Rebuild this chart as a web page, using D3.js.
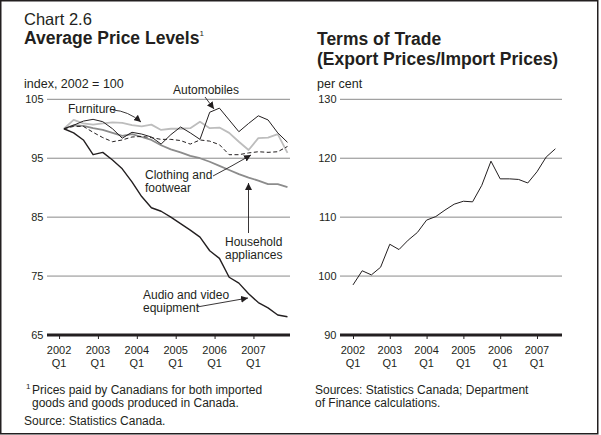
<!DOCTYPE html>
<html><head><meta charset="utf-8">
<script src="https://cdn.jsdelivr.net/npm/d3@7"></script>
<style>
body{margin:0;background:#fff}
svg{display:block}
text{font-family:"Liberation Sans",Arial,Helvetica,sans-serif;fill:#231f20}
</style>
</head><body>
<svg id="c" width="601" height="435"></svg>
<script>
// ---- data ----
const yearTicks = [2002, 2003, 2004, 2005, 2006, 2007];
const yearLabels = ["2002", "2003", "2004", "2005", "2006", "2007"];
const quarterLabel = "Q1";
const leftYTicks = [65, 75, 85, 95, 105];
const rightYTicks = [90, 100, 110, 120, 130];

// quarterly, 2002 Q1 .. 2007 Q4 (index, 2002 = 100)
const automobiles = [100, 100.6, 101.3, 101.6, 101.2, 100.0, 98.4, 99.4, 99.1, 98.6, 97.4, 99.0, 100.3, 99.3, 98.2, 102.8, 103.5, 101.5, 99.5, 100.9, 102.2, 101.5, 99.3, 97.7];
const furniture = [100, 101.5, 100.9, 100.7, 100.9, 101.1, 101.0, 100.6, 100.4, 100.7, 99.8, 100.0, 100.0, 100.1, 101.2, 100.1, 100.2, 99.3, 97.8, 96.4, 98.4, 98.5, 99.1, 95.9];
const clothing = [100, 100.4, 100.4, 99.4, 98.5, 97.8, 98.1, 98.6, 98.7, 98.5, 98.2, 98.2, 98.0, 97.4, 98.1, 97.9, 97.3, 95.6, 95.6, 95.9, 96.1, 96.0, 96.1, 97.0];
const household = [100, 100.6, 100.5, 100.1, 99.8, 99.3, 98.8, 99.1, 98.6, 98.1, 97.2, 96.5, 96.0, 95.4, 95.0, 94.4, 93.7, 93.0, 92.3, 91.7, 91.2, 90.6, 90.6, 90.1];
const audioVideo = [100, 99.3, 98.1, 95.6, 96.0, 94.7, 93.2, 91.0, 88.5, 86.6, 86.0, 85.0, 83.9, 82.8, 81.6, 79.3, 78.0, 74.8, 73.8, 72.0, 70.5, 69.6, 68.4, 68.1];

// quarterly, 2002 Q1 .. 2007 Q3 (per cent)
const termsOfTrade = [98.5, 100.9, 100.2, 101.5, 105.4, 104.5, 106.1, 107.4, 109.5, 110.1, 111.2, 112.2, 112.7, 112.6, 115.4, 119.5, 116.5, 116.5, 116.4, 115.8, 117.7, 120.2, 121.6];

// ---- drawing ----
const svg = d3.select("#c");
const defs = svg.append("defs");
defs.append("marker").attr("id", "ah").attr("viewBox", "0 0 10 10")
  .attr("refX", 10).attr("refY", 5).attr("markerWidth", 7).attr("markerHeight", 7)
  .attr("markerUnits", "userSpaceOnUse").attr("orient", "auto")
  .append("path").attr("d", "M0,0L10,5L0,10z").attr("fill", "#231f20");

svg.append("rect").attr("x", 0.75).attr("y", 0.75).attr("width", 597).attr("height", 433)
  .attr("fill", "none").attr("stroke", "#231f20").attr("stroke-width", 1.5);

// titles
svg.append("text").attr("x", 24).attr("y", 25).attr("font-size", 16.5).text("Chart 2.6");
const t1 = svg.append("text").attr("x", 24).attr("y", 44).attr("font-size", 17.5).attr("font-weight", "bold");
t1.append("tspan").text("Average Price Levels");
t1.append("tspan").attr("font-size", 8).attr("font-weight", "normal").attr("dy", -8).text("1");
svg.append("text").attr("x", 317).attr("y", 45).attr("font-size", 17.5).attr("font-weight", "bold").text("Terms of Trade");
svg.append("text").attr("x", 317).attr("y", 65).attr("font-size", 17.5).attr("font-weight", "bold").text("(Export Prices/Import Prices)");
svg.append("text").attr("x", 24).attr("y", 87.5).attr("font-size", 12.5).text("index, 2002 = 100");
svg.append("text").attr("x", 317).attr("y", 87.5).attr("font-size", 12.5).text("per cent");

const yRange = [335, 99.3];

function panel(opts) {
  const x = d3.scaleLinear().domain(opts.tDomain).range(opts.xRange);
  const y = d3.scaleLinear().domain(opts.yDomain).range(yRange);
  const g = svg.append("g");
  // gridlines
  g.selectAll("line.grid").data(opts.yTicks.slice(1)).join("line")
    .attr("x1", opts.xRange[0]).attr("x2", opts.xRange[1])
    .attr("y1", d => y(d)).attr("y2", d => y(d))
    .attr("stroke", "#8a8a8a").attr("stroke-width", 1);
  // y labels
  g.selectAll("text.yl").data(opts.yTicks).join("text")
    .attr("x", opts.xRange[0] - 3.5).attr("y", d => y(d)).attr("dy", "0.35em")
    .attr("text-anchor", "end").attr("font-size", 11).text(d => d);
  // x axis
  const ax = d3.axisBottom(x).tickValues(yearTicks).tickSize(4).tickFormat("");
  const axg = g.append("g").attr("transform", `translate(0,${y(opts.yDomain[0])})`).call(ax);
  axg.select(".domain").remove();
  axg.selectAll(".tick line").attr("stroke", "#231f20").attr("stroke-width", 1);
  g.append("line").attr("x1", opts.xRange[0]).attr("x2", opts.xRange[1])
    .attr("y1", y(opts.yDomain[0])).attr("y2", y(opts.yDomain[0]))
    .attr("stroke", "#231f20").attr("stroke-width", 3.2);
  g.selectAll("text.xl").data(yearTicks).join("text")
    .attr("x", d => x(d)).attr("y", 354).attr("text-anchor", "middle").attr("font-size", 11)
    .text((d, i) => yearLabels[i]);
  g.selectAll("text.xq").data(yearTicks).join("text")
    .attr("x", d => x(d)).attr("y", 366.5).attr("text-anchor", "middle").attr("font-size", 11)
    .text(quarterLabel);
  return {x, y, g};
}

// left panel: points at mid-quarter
const L = panel({tDomain: [2001.69, 2007.94], xRange: [47, 290], yDomain: [65, 105], yTicks: leftYTicks});
const tL = i => 2002 + (i + 0.5) / 4;
const lineL = d3.line().x((d, i) => L.x(tL(i))).y(d => L.y(d));
const series = [
  {data: furniture, color: "#bdbdbd", w: 1.8, dash: null},
  {data: household, color: "#8c8c8c", w: 1.8, dash: null},
  {data: clothing, color: "#231f20", w: 1, dash: "4,2.5"},
  {data: automobiles, color: "#231f20", w: 1, dash: null},
  {data: audioVideo, color: "#231f20", w: 1.4, dash: null}
];
series.forEach(s => {
  L.g.append("path").datum(s.data).attr("d", lineL).attr("fill", "none")
    .attr("stroke", s.color).attr("stroke-width", s.w)
    .attr("stroke-dasharray", s.dash).attr("stroke-linejoin", "round");
});

// right panel: points at start of quarter
const R = panel({tDomain: [2001.647, 2007.68], xRange: [340, 562], yDomain: [90, 130], yTicks: rightYTicks});
const lineR = d3.line().x((d, i) => R.x(2002 + i / 4)).y(d => R.y(d));
R.g.append("path").datum(termsOfTrade).attr("d", lineR).attr("fill", "none")
  .attr("stroke", "#231f20").attr("stroke-width", 1).attr("stroke-linejoin", "round");

// annotations
function label(lines, x, y0, lh) {
  const t = svg.append("text").attr("font-size", 12);
  lines.forEach((s, i) => t.append("tspan").attr("x", x).attr("y", y0 + i * lh).text(s));
}
function arrow(x1, y1, x2, y2, curve) {
  const p = curve ? `M${x1},${y1}Q${curve[0]},${curve[1]} ${x2},${y2}` : `M${x1},${y1}L${x2},${y2}`;
  svg.append("path").attr("d", p).attr("fill", "none").attr("stroke", "#231f20")
    .attr("stroke-width", 0.9).attr("marker-end", "url(#ah)");
}
label(["Automobiles"], 173, 94, 13);
arrow(205, 97, 214, 109);
label(["Furniture"], 68, 113, 13);
arrow(113, 110, 141, 122, [128, 111]);
label(["Clothing and", "footwear"], 145, 179, 13);
arrow(213, 176, 251, 155, [232, 166]);
label(["Household", "appliances"], 225, 246, 13);
arrow(248.5, 233, 248.5, 183);
label(["Audio and video", "equipment"], 143, 299, 13);
arrow(197, 307, 248, 298);

// footnotes
const f1 = svg.append("text").attr("font-size", 12);
f1.append("tspan").attr("x", 26).attr("y", 393).attr("font-size", 8).attr("dy", -4).text("1");
f1.append("tspan").attr("x", 32).attr("y", 394).text("Prices paid by Canadians for both imported");
f1.append("tspan").attr("x", 32).attr("y", 407).text("goods and goods produced in Canada.");
svg.append("text").attr("x", 24).attr("y", 424.5).attr("font-size", 12).text("Source: Statistics Canada.");
const f2 = svg.append("text").attr("font-size", 12);
f2.append("tspan").attr("x", 315).attr("y", 394).text("Sources: Statistics Canada; Department");
f2.append("tspan").attr("x", 315).attr("y", 407).text("of Finance calculations.");
</script>
</body></html>
